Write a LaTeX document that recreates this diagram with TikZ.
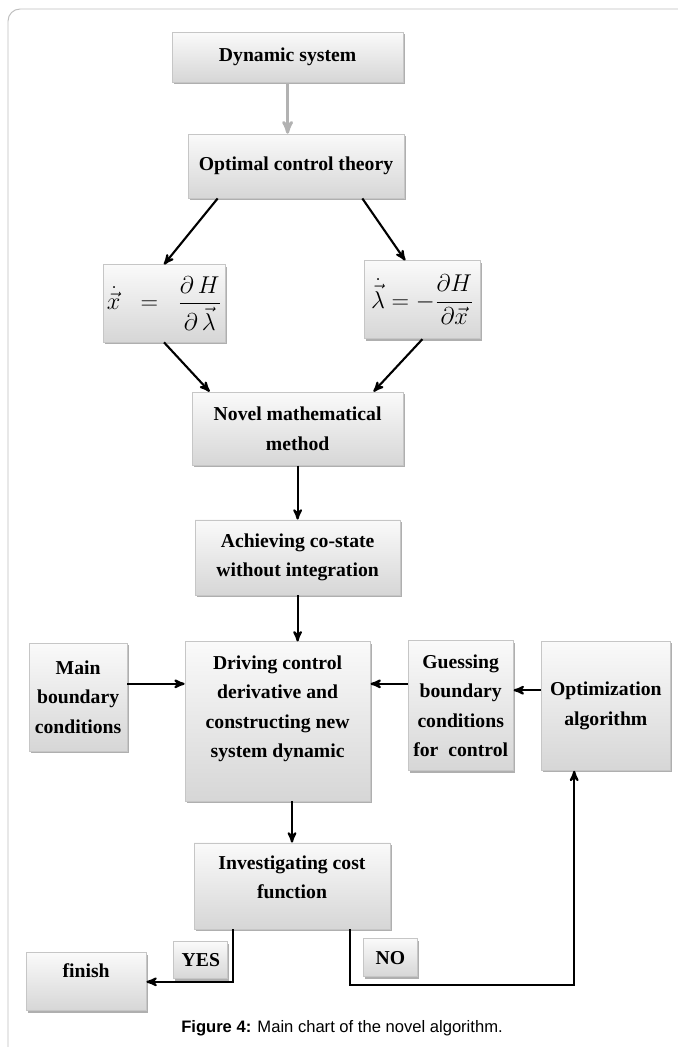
\documentclass[tikz,border=0pt]{standalone}
\usepackage{amsmath}
\usepackage{fontspec}
\setmainfont{Liberation Serif}
\newfontfamily\capfont{Liberation Sans}
\usepackage{tikz}
\usetikzlibrary{arrows, positioning, shadows}
\tikzset{
		block/.style={draw=gray!45, line width=0.5pt, top color=gray!4, bottom color=gray!32, drop shadow={shadow xshift=0.04cm, shadow yshift=-0.05cm, fill=gray!70, opacity=0.9}, align=center, inner sep=2pt, font=\fontsize{14}{21}\selectfont\bfseries},
		eqblock/.style={block, font=\fontsize{16}{19}\selectfont},
		tag/.style={block, font=\fontsize{14}{17}\selectfont\bfseries, minimum width=1.35cm},
		flow/.style={->, line width=1.5pt},
		frame/.style={draw=gray!50, line width=0.7pt, rounded corners=0.3cm}
	}
\begin{document}
\begin{tikzpicture}[>=stealth', auto]
				\useasboundingbox (0,0) rectangle (16.95,-26.175);
				\draw[frame] (0.2,-0.225) rectangle (17.6,-27);
				\node[block, minimum width=5.78cm, minimum height=1.25cm] (ds) at (7.19,-1.43) {Dynamic system};
				\node[block, minimum width=5.4cm, minimum height=1.6cm] (oct) [below=1.28cm of ds, xshift=0.21cm] {Optimal control theory};
				\node[eqblock, minimum width=3.05cm, minimum height=1.93cm] (xeq) [below=1.65cm of oct, xshift=-3.3cm] {$\dot{\vec{x}} \;\;=\;\; \dfrac{\partial\, H}{\partial\, \vec{\lambda}}$};
				\node[eqblock, minimum width=2.88cm, minimum height=1.95cm] (leq) [below=1.55cm of oct, xshift=3.16cm] {$\dot{\vec{\lambda}}=-\dfrac{\partial H}{\partial\vec{x}}$};
				\node[block, minimum width=5.28cm, minimum height=1.83cm] (nmm) [below=4.83cm of oct, xshift=0.04cm] {Novel mathematical\\method};
				\node[block, minimum width=5.13cm, minimum height=1.88cm] (ach) [below=1.35cm of nmm] {Achieving co-state\\without integration};
				\node[block, minimum width=4.63cm, minimum height=3.98cm] (drv) [below=1.15cm of ach, xshift=-0.5cm] {Driving control\\derivative and\\constructing new\\system dynamic\\ \mbox{}};
				\node[block, minimum width=2.45cm, minimum height=2.7cm] (mbc) [left=1.43cm of drv, yshift=0.61cm] {Main\\boundary\\conditions};
				\node[block, minimum width=2.63cm, minimum height=3.25cm] (gbc) [right=0.93cm of drv, yshift=0.39cm] {Guessing\\boundary\\conditions\\for\ \ control};
				\node[block, minimum width=3.23cm, minimum height=3.23cm] (opt) [right=0.68cm of gbc] {Optimization\\algorithm};
				\node[block, minimum width=4.9cm, minimum height=2.15cm] (inv) [below=1.03cm of drv, xshift=0.36cm] {Investigating cost\\function\\[-0.3cm]\mbox{}};
				\node[block, minimum width=3cm, minimum height=1.45cm] (fin) [below left=0.58cm and 1.18cm of inv] {finish\\[-0.2cm]\mbox{}};
				\node[tag, minimum height=0.93cm] (yes) [below=0.3cm of inv.south west, xshift=0.18cm] {YES};
				\node[tag, minimum height=0.95cm] (no) [below=0.23cm of inv.south east] {NO};
				\node[font=\capfont\fontsize{11.8}{14}\selectfont] (cap) at (8.55,-25.7) {\textbf{Figure 4:} Main chart of the novel algorithm.};
				\draw[->, gray!60, line width=2pt] (ds.south) -- (ds.south |- oct.north);
				\draw[flow] ([xshift=0.75cm]oct.south west) -- (xeq.north);
				\draw[flow] ([xshift=-1.05cm]oct.south east) -- ([xshift=-0.43cm]leq.north);
				\draw[flow] (xeq.south) -- ([xshift=0.45cm]nmm.north west);
				\draw[flow] (leq.south) -- ([xshift=-0.75cm]nmm.north east);
				\draw[flow] (nmm.south) -- (ach.north);
				\draw[flow] (ach.south) -- (ach.south |- drv.north);
				\draw[flow] ([yshift=0.33cm]mbc.east) -- ([yshift=0.33cm]mbc.east -| drv.west);
				\draw[flow] ([yshift=0.55cm]gbc.west) -- ([yshift=0.55cm]gbc.west -| drv.east);
				\draw[flow] ([yshift=0.39cm]opt.west) -- ([yshift=0.39cm]opt.west -| gbc.east);
				\draw[flow] (inv.north |- drv.south) -- (inv.north);
				\draw[flow] ([xshift=0.98cm]inv.south west) |- (fin.east);
				\draw[flow] ([xshift=-1cm]inv.south east) -- ++(0,-1.4) -| ([xshift=-0.79cm]opt.south);
			\end{tikzpicture}
\end{document}
